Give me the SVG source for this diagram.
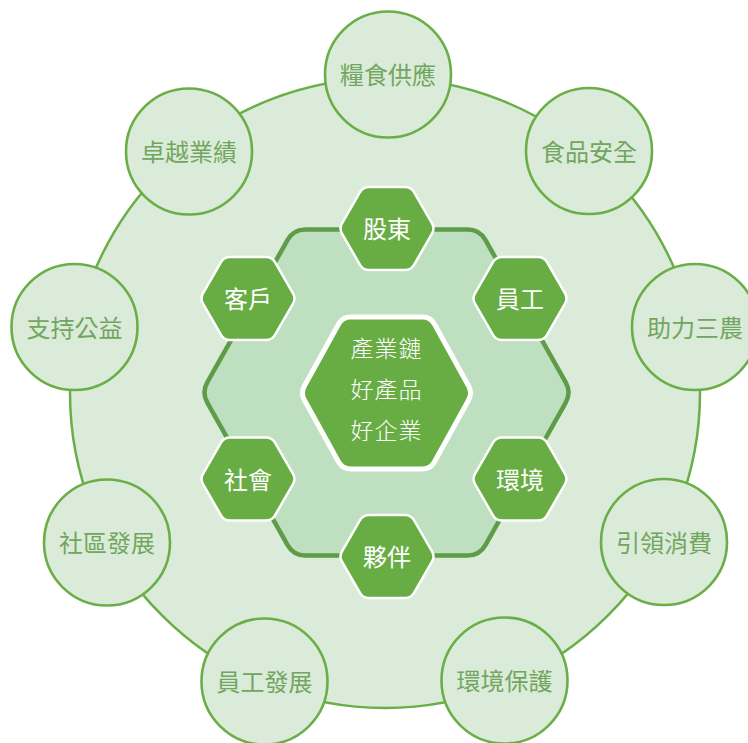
<svg xmlns="http://www.w3.org/2000/svg" xmlns:xlink="http://www.w3.org/1999/xlink" width="748" height="743" viewBox="0 0 748 743">
<style>
.ring{fill:#dbebda;stroke:#6aae47;stroke-width:2.5}
.oc{fill:#dbebda;stroke:#6aae47;stroke-width:2.6}
.ot{font-family:"Noto Sans CJK TC","Noto Sans CJK SC",sans-serif;font-size:24px;fill:#72a65e;text-anchor:middle;dominant-baseline:central}
.bh{fill:#bfdfc1;stroke:#5e9c48;stroke-width:4.5}
.sh{fill:#68ad44;stroke:#ffffff;stroke-width:2.5}
.st{font-family:"Noto Sans CJK TC","Noto Sans CJK SC",sans-serif;font-size:24px;fill:#ffffff;text-anchor:middle;dominant-baseline:central}
.ch{fill:#68ad44;stroke:#ffffff;stroke-width:5}
.ct{font-family:"Noto Sans CJK TC","Noto Sans CJK SC",sans-serif;font-weight:300;font-size:23px;fill:#ffffff;text-anchor:middle;dominant-baseline:central;letter-spacing:1px}
</style>
<defs>
<path id="hexS" d="M-45,5.19 Q-48,0 -45,-5.19 L-27,-36.31 Q-24,-41.5 -18,-41.5 L18,-41.5 Q24,-41.5 27,-36.31 L45,-5.19 Q48,0 45,5.19 L27,36.31 Q24,41.5 18,41.5 L-18,41.5 Q-24,41.5 -27,36.31 Z"/>
</defs>
<g id="ring">
<circle class="ring" cx="385" cy="393" r="315"/>
</g>
<g id="outer-nodes">
<g id="n-liangshi"><circle class="oc" cx="388" cy="74.5" r="63"/><text class="ot" x="388" y="73">糧食供應</text></g>
<g id="n-shipin"><circle class="oc" cx="589" cy="151" r="63"/><text class="ot" x="589" y="150">食品安全</text></g>
<g id="n-zhuli"><circle class="oc" cx="695" cy="327" r="63"/><text class="ot" x="695" y="326">助力三農</text></g>
<g id="n-yinling"><circle class="oc" cx="664" cy="542" r="63"/><text class="ot" x="664" y="541">引領消費</text></g>
<g id="n-huanjing"><circle class="oc" cx="504.5" cy="680.5" r="63"/><text class="ot" x="504.5" y="679">環境保護</text></g>
<g id="n-yuangong"><circle class="oc" cx="264.5" cy="681.5" r="63"/><text class="ot" x="264.5" y="680">員工發展</text></g>
<g id="n-shequ"><circle class="oc" cx="107" cy="542.5" r="63"/><text class="ot" x="107" y="541">社區發展</text></g>
<g id="n-zhichi"><circle class="oc" cx="74.5" cy="327" r="63"/><text class="ot" x="74.5" y="326">支持公益</text></g>
<g id="n-zhuoyue"><circle class="oc" cx="189" cy="151.5" r="63"/><text class="ot" x="189" y="150">卓越業績</text></g>
</g>
<g id="connectors"></g>
<g id="inner-hex" transform="translate(386.5,392.5)">
<path class="bh" d="M-179.1,10.45 Q-185,0 -179.1,-10.45 L-98.9,-152.55 Q-93,-163 -81,-163 L81,-163 Q93,-163 98.9,-152.55 L179.1,-10.45 Q185,0 179.1,10.45 L98.9,152.55 Q93,163 81,163 L-81,163 Q-93,163 -98.9,152.55 Z"/>
</g>
<g id="h-gudong" transform="translate(387,228.5)"><use xlink:href="#hexS" href="#hexS" class="sh"/><text class="st" x="0" y="-1">股東</text></g>
<g id="h-yuangong" transform="translate(520,298.5)"><use xlink:href="#hexS" href="#hexS" class="sh"/><text class="st" x="0" y="-1">員工</text></g>
<g id="h-huanjing" transform="translate(520,479)"><use xlink:href="#hexS" href="#hexS" class="sh"/><text class="st" x="0" y="-1">環境</text></g>
<g id="h-huoban" transform="translate(387,556.5)"><use xlink:href="#hexS" href="#hexS" class="sh"/><text class="st" x="0" y="-1">夥伴</text></g>
<g id="h-shehui" transform="translate(248,479)"><use xlink:href="#hexS" href="#hexS" class="sh"/><text class="st" x="0" y="-1">社會</text></g>
<g id="h-kehu" transform="translate(248,298.5)"><use xlink:href="#hexS" href="#hexS" class="sh"/><text class="st" x="0" y="-1">客戶</text></g>
<g id="center" transform="translate(386.5,393)">
<path class="ch" d="M-82.13,7 Q-86,0 -82.13,-7 L-47.87,-69 Q-44,-76 -36,-76 L36,-76 Q44,-76 47.87,-69 L82.13,-7 Q86,0 82.13,7 L47.87,69 Q44,76 36,76 L-36,76 Q-44,76 -47.87,69 Z"/>
<text class="ct" x="0" y="-46">產業鏈</text>
<text class="ct" x="0" y="-5">好產品</text>
<text class="ct" x="0" y="36">好企業</text>
</g>
</svg>
